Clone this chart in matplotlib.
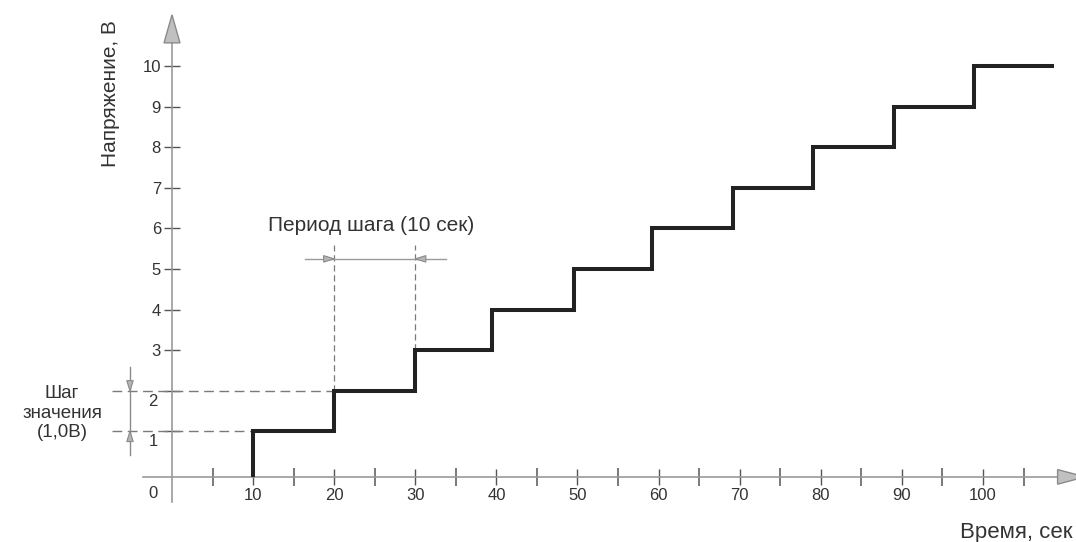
import matplotlib
matplotlib.use("Agg")
import matplotlib.pyplot as plt
from matplotlib.patches import Polygon

plt.rcParams['font.family'] = ['Liberation Sans', 'DejaVu Sans']

# ---- data ----
step_times = [10, 20, 30, 39.5, 49.6, 59.2, 69.2, 79.1, 89.0, 98.9]
step_values = [1, 2, 3, 4, 5, 6, 7, 8, 9, 10]
end_time = 108.8
x_major_ticks = [10, 20, 30, 40, 50, 60, 70, 80, 90, 100]
x_minor_ticks = [5, 15, 25, 35, 45, 55, 65, 75, 85, 95, 105]
y_ticks = [1, 2, 3, 4, 5, 6, 7, 8, 9, 10]
y_ticklabels = ['', '', '3', '4', '5', '6', '7', '8', '9', '10']
period_start, period_end = 20, 30
value_low, value_high = 1, 2

xlabel = 'Время, сек'
ylabel = 'Напряжение, В'
period_text = 'Период шага (10 сек)'
value_text = 'Шаг\nзначения\n(1,0В)'

# ---- figure ----
fig = plt.figure(figsize=(10.76, 5.42), dpi=100)
ax = fig.add_axes([0, 0, 1, 1])
ax.set_xlim(-21.21, 111.47)
ax.set_ylim(-1.724, 11.626)
ax.set_facecolor('white')

axis_y = -0.12
axis_col = '#999999'
tick_col = '#555555'
txt_col = '#333333'

for s in ['top', 'right']:
    ax.spines[s].set_visible(False)
ax.spines['left'].set_position(('data', 0))
ax.spines['left'].set_bounds(-0.74, 10.6)
ax.spines['bottom'].set_position(('data', axis_y))
ax.spines['bottom'].set_bounds(-3.58, 109.3)
for s in ['left', 'bottom']:
    ax.spines[s].set_color(axis_col)
    ax.spines[s].set_linewidth(1.2)

ax.set_xticks(x_major_ticks)
ax.set_xticklabels([str(t) for t in x_major_ticks])
ax.set_xticks(x_minor_ticks, minor=True)
ax.set_yticks(y_ticks)
ax.set_yticklabels(y_ticklabels)
ax.tick_params(axis='both', which='major', direction='inout', length=11,
               width=1, color=tick_col, labelsize=12, labelcolor=txt_col, pad=2.5)
ax.tick_params(axis='x', which='minor', direction='inout', length=13,
               width=1.1, color=tick_col)

# extra tick labels (0, 1, 2) placed as in the drawing
ax.text(-2.34, -0.54, '0', ha='center', va='center', fontsize=12, color=txt_col)
ax.text(-1.75, value_low - 0.26, str(value_low), ha='right', va='center',
        fontsize=12, color=txt_col)
ax.text(-1.75, value_high - 0.26, str(value_high), ha='right', va='center',
        fontsize=12, color=txt_col)

# arrow heads of the axes
ax.add_patch(Polygon([(-0.985, 10.57), (0.985, 10.57), (0, 11.26)], closed=True,
                     facecolor='#c0c0c0', edgecolor='#8a8a8a', lw=1, zorder=3, clip_on=False))
ax.add_patch(Polygon([(109.2, axis_y + 0.18), (109.2, axis_y - 0.18), (112.6, axis_y)],
                     closed=True, facecolor='#c0c0c0', edgecolor='#8a8a8a', lw=1,
                     zorder=3, clip_on=False))

# step line
nxt = step_times[1:] + [end_time]
xs = [step_times[0]]
ys = [axis_y]
for t, v, tn in zip(step_times, step_values, nxt):
    xs += [t, tn]
    ys += [v, v]
ax.plot(xs, ys, color='#222222', lw=2.9, solid_joinstyle='miter',
        solid_capstyle='butt', zorder=5)

# dashed guide lines
dash_col = '#7a7a7a'
ax.plot([-7.4, step_times[0]], [value_low, value_low], color=dash_col, lw=1,
        dashes=(7, 4), zorder=2)
ax.plot([-7.4, step_times[1]], [value_high, value_high], color=dash_col, lw=1,
        dashes=(7, 4), zorder=2)
ax.plot([period_start, period_start], [value_high, 5.6], color=dash_col, lw=0.9,
        dashes=(5, 3), zorder=2)
ax.plot([period_end, period_end], [3, 5.6], color=dash_col, lw=0.9,
        dashes=(5, 3), zorder=2)

# period dimension line
dim_col = '#9a9a9a'
dim_y = 5.25
ax.plot([16.4, 33.8], [dim_y, dim_y], color=dim_col, lw=1, zorder=2)
ahead = dict(facecolor='#b5b5b5', edgecolor='#8a8a8a', lw=0.8, zorder=3)
ax.add_patch(Polygon([(period_start - 1.3, dim_y + 0.08), (period_start - 1.3, dim_y - 0.08),
                      (period_start, dim_y)], closed=True, **ahead))
ax.add_patch(Polygon([(period_end + 1.3, dim_y + 0.08), (period_end + 1.3, dim_y - 0.08),
                      (period_end, dim_y)], closed=True, **ahead))
ax.text((period_start + period_end) / 2 - 0.5, 6.06, period_text, ha='center', va='center',
        fontsize=15, color=txt_col)

# value dimension line
vx = -5.18
ax.plot([vx, vx], [0.42, 2.59], color='#8a8a8a', lw=1, zorder=2)
ax.add_patch(Polygon([(vx - 0.4, value_high + 0.25), (vx + 0.4, value_high + 0.25),
                      (vx, value_high)], closed=True, **ahead))
ax.add_patch(Polygon([(vx - 0.4, value_low - 0.25), (vx + 0.4, value_low - 0.25),
                      (vx, value_low)], closed=True, **ahead))
ax.text(-13.56, 1.45, value_text, ha='center', va='center', fontsize=13.5,
        color=txt_col, linespacing=1.2)

# axis labels
ax.text(-7.64, 9.33, ylabel, rotation=90, ha='center', va='center', fontsize=15,
        color=txt_col)
ax.text(111.0, -1.48, xlabel, ha='right', va='center', fontsize=16, color=txt_col)

fig.savefig('out.png', dpi=100, facecolor='white')
